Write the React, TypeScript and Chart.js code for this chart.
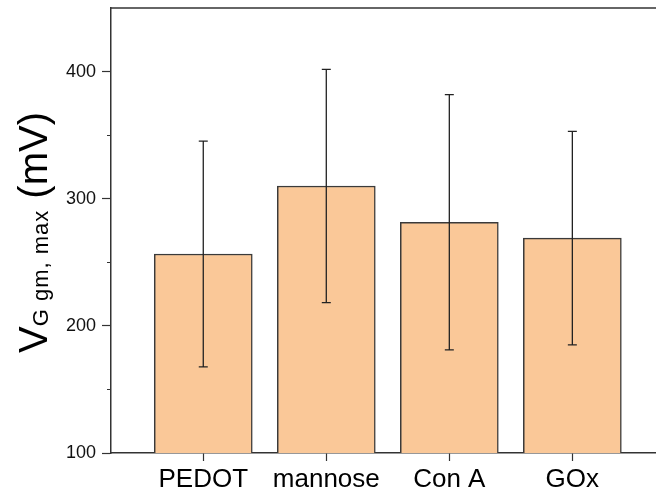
import React, { useEffect, useRef } from "react";
import { Chart, registerables } from "chart.js";

Chart.register(...registerables);

const categories = ["PEDOT", "mannose", "Con A", "GOx"];
const means = [256.5, 310, 281.5, 269];
const errors = [88.8, 91.8, 100.4, 84];
const yTicks = [100, 200, 300, 400];
const yMinorTicks = [150, 250, 350];

const FONT = "'Liberation Sans', Arial, sans-serif";
const AXIS = "#333333";

const framePlugin = {
  id: "framePlugin",
  afterDatasetsDraw(chart: any) {
    const { ctx, chartArea, scales } = chart;
    const x = scales.x;
    const y = scales.y;
    ctx.save();
    // error bars
    ctx.strokeStyle = "#222222";
    ctx.lineWidth = 1.3;
    means.forEach((m, i) => {
      const px = x.getPixelForValue(i);
      const top = y.getPixelForValue(m + errors[i]);
      const bot = y.getPixelForValue(m - errors[i]);
      ctx.beginPath();
      ctx.moveTo(px, top);
      ctx.lineTo(px, bot);
      ctx.moveTo(px - 4.5, top);
      ctx.lineTo(px + 4.5, top);
      ctx.moveTo(px - 4.5, bot);
      ctx.lineTo(px + 4.5, bot);
      ctx.stroke();
    });
    // top frame line
    ctx.strokeStyle = AXIS;
    ctx.lineWidth = 1.5;
    ctx.beginPath();
    ctx.moveTo(chartArea.left, chartArea.top);
    ctx.lineTo(chartArea.right, chartArea.top);
    ctx.stroke();
    // minor y ticks
    ctx.lineWidth = 1;
    yMinorTicks.forEach((v) => {
      const py = Math.round(y.getPixelForValue(v)) + 0.5;
      ctx.beginPath();
      ctx.moveTo(chartArea.left - 4, py);
      ctx.lineTo(chartArea.left, py);
      ctx.stroke();
    });
    ctx.restore();
  },
  afterDraw(chart: any) {
    const { ctx, chartArea } = chart;
    ctx.save();
    const cy = (chartArea.top + chartArea.bottom) / 2 + 2;
    ctx.translate(47, cy);
    ctx.rotate(-Math.PI / 2);
    ctx.fillStyle = "#000000";
    ctx.textBaseline = "alphabetic";
    ctx.textAlign = "left";
    const big = `40px ${FONT}`;
    const small = `22px ${FONT}`;
    ctx.font = big;
    const wV = ctx.measureText("V").width;
    const wUnit = ctx.measureText(" (mV)").width;
    ctx.font = small;
    (ctx as any).letterSpacing = "1px";
    const wSub = ctx.measureText("G gm, max").width;
    (ctx as any).letterSpacing = "0px";
    const total = wV + wSub + wUnit;
    let xx = -total / 2;
    ctx.font = big;
    ctx.fillText("V", xx, 0);
    xx += wV;
    ctx.font = small;
    (ctx as any).letterSpacing = "1px";
    ctx.fillText("G gm, max", xx, 1);
    (ctx as any).letterSpacing = "0px";
    xx += wSub;
    ctx.font = big;
    ctx.fillText(" (mV)", xx, 0);
    ctx.restore();
  },
};

export default function App() {
  const ref = useRef<HTMLCanvasElement | null>(null);
  useEffect(() => {
    if (!ref.current) return;
    const chart = new Chart(ref.current, {
      type: "bar",
      data: {
        datasets: [
          {
            data: means.map((m, i) => ({ x: i, y: m })),
            backgroundColor: "#FAC898",
            borderColor: "#3a3a3a",
            borderWidth: 1.5,
            barThickness: 98,
          },
        ],
      },
      options: {
        responsive: false,
        animation: false,
        devicePixelRatio: 1,
        layout: { padding: { top: 8, right: 0, left: 0, bottom: 0 } },
        plugins: {
          legend: { display: false },
          tooltip: { enabled: false },
        },
        scales: {
          x: {
            type: "linear",
            offset: false,
            min: -0.75,
            max: 3.68,
            afterBuildTicks: (s: any) => {
              s.ticks = categories.map((_, i) => ({ value: i }));
            },
            afterFit: (s: any) => {
              s.height = 43;
              s.paddingLeft = 0;
              s.paddingRight = 0;
              s.paddingTop = 0;
              s.paddingBottom = 0;
            },
            ticks: {
              callback: (v: any) => categories[Math.round(Number(v))] ?? "",
              font: { family: FONT, size: 26 },
              color: "#000000",
              padding: 3,
              maxRotation: 0,
              autoSkip: false,
            },
            grid: {
              offset: false,
              drawOnChartArea: false,
              drawTicks: true,
              tickLength: 8,
              tickColor: AXIS,
              tickWidth: 1.2,
            },
            border: { color: AXIS, width: 1.5 },
          },
          y: {
            min: 100,
            max: 450,
            afterBuildTicks: (s: any) => {
              s.ticks = yTicks.map((v) => ({ value: v }));
            },
            afterFit: (s: any) => {
              s.width = 111;
              s.paddingLeft = 0;
              s.paddingRight = 0;
              s.paddingTop = 0;
              s.paddingBottom = 0;
            },
            ticks: {
              font: { family: FONT, size: 18 },
              color: "#111111",
              padding: 6,
            },
            grid: {
              drawOnChartArea: false,
              drawTicks: true,
              tickLength: 9,
              tickColor: AXIS,
              tickWidth: 1.2,
            },
            border: { color: AXIS, width: 1.5 },
          },
        },
      },
      plugins: [framePlugin],
    });
    return () => chart.destroy();
  }, []);
  return (
    <canvas
      ref={ref}
      width={656}
      height={496}
      style={{ position: "fixed", left: 0, top: 0, width: 656, height: 496 }}
    />
  );
}
